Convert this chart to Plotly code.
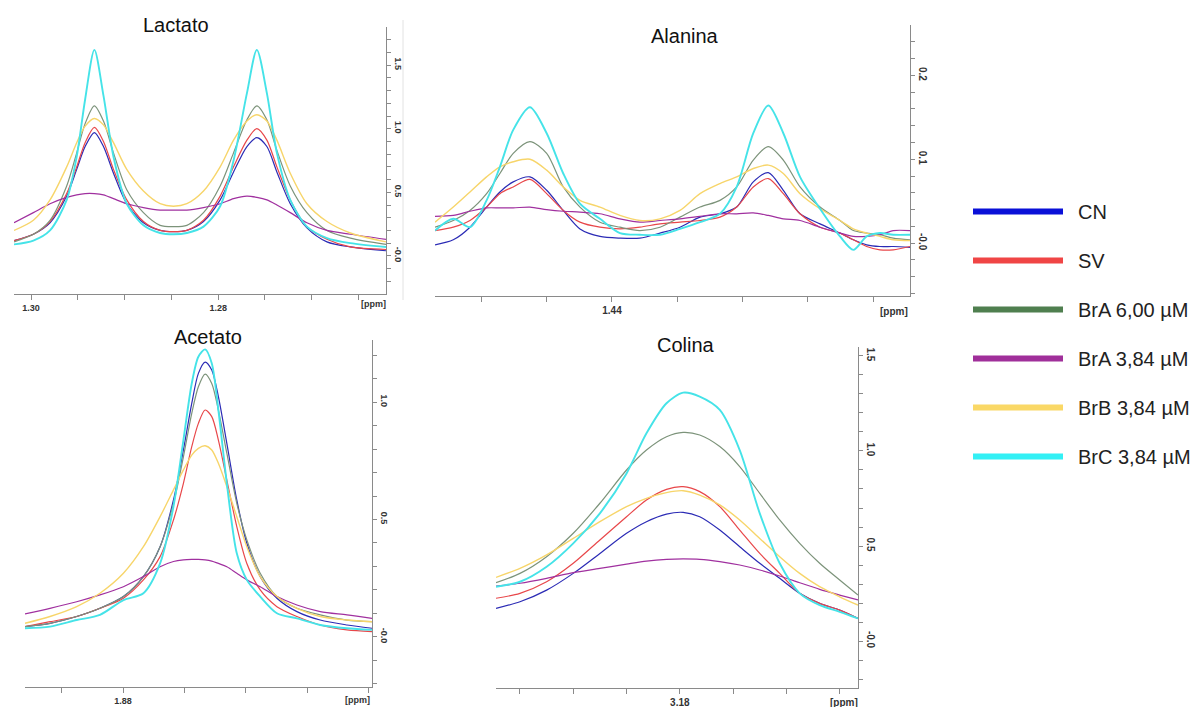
import plotly.graph_objects as go

W, H = 1201, 707

series_names = ["CN", "SV", "BrA 6,00 µM", "BrA 3,84 µM", "BrB 3,84 µM", "BrC 3,84 µM"]
curve_colors = ["#2b2bb5", "#e8474a", "#7c937a", "#a0309f", "#f7d56a", "#45e3e8"]
legend_colors = ["#0a10d8", "#f04545", "#4f7f4f", "#a02f9a", "#fad866", "#33f0f5"]
curve_widths = [1.2, 1.2, 1.2, 1.2, 1.4, 1.9]

# ---------------- Lactato ----------------
lact_ppm = [1.30182, 1.29975, 1.29797, 1.29619, 1.29512, 1.29422, 1.29323, 1.29226, 1.29119,
            1.28977, 1.28799, 1.28620, 1.28478, 1.28335, 1.28157, 1.27979, 1.27836, 1.27693,
            1.27587, 1.27480, 1.27373, 1.27230, 1.27052, 1.26838, 1.26588, 1.26207]
lact_cn = [0.12, 0.17, 0.26, 0.47, 0.68, 0.86, 0.97, 0.86, 0.65, 0.41, 0.26, 0.20, 0.19, 0.20,
           0.27, 0.44, 0.66, 0.86, 0.93, 0.86, 0.66, 0.41, 0.22, 0.11, 0.07, 0.04]
lact_sv = [0.12, 0.17, 0.27, 0.49, 0.70, 0.89, 1.01, 0.90, 0.68, 0.44, 0.27, 0.20, 0.19, 0.20,
           0.28, 0.47, 0.70, 0.91, 1.00, 0.91, 0.70, 0.44, 0.23, 0.13, 0.07, 0.05]
lact_bra6 = [0.11, 0.17, 0.28, 0.55, 0.81, 1.04, 1.18, 1.06, 0.81, 0.52, 0.34, 0.24, 0.23, 0.24,
             0.34, 0.55, 0.81, 1.07, 1.18, 1.07, 0.83, 0.55, 0.34, 0.20, 0.14, 0.09]
lact_bra384 = [0.26, 0.34, 0.41, 0.46, 0.48, 0.49, 0.49, 0.48, 0.45, 0.41, 0.38, 0.36, 0.36, 0.36,
               0.38, 0.41, 0.45, 0.47, 0.46, 0.44, 0.40, 0.34, 0.26, 0.20, 0.17, 0.13]
lact_brb = [0.20, 0.28, 0.44, 0.70, 0.89, 1.02, 1.08, 1.03, 0.89, 0.68, 0.51, 0.41, 0.39, 0.41,
            0.51, 0.70, 0.91, 1.06, 1.11, 1.06, 0.91, 0.65, 0.41, 0.27, 0.18, 0.11]
lact_brc = [0.09, 0.12, 0.20, 0.44, 0.78, 1.23, 1.62, 1.26, 0.78, 0.41, 0.24, 0.18, 0.17, 0.18,
            0.23, 0.39, 0.75, 1.28, 1.62, 1.28, 0.81, 0.44, 0.23, 0.14, 0.10, 0.07]
lact_xticks = [1.300, 1.295, 1.290, 1.285, 1.280, 1.275, 1.270, 1.265]
lact_xlabels = ["1.30", "", "", "", "1.28", "", "", ""]
lact_yticks = [-0.2, -0.1, 0.0, 0.1, 0.2, 0.3, 0.4, 0.5, 0.6, 0.7, 0.8, 0.9, 1.0, 1.1, 1.2, 1.3,
               1.4, 1.5, 1.6, 1.7]
lact_ylabels = ["", "", "-0.0", "", "", "", "", "0.5", "", "", "", "", "1.0", "", "", "", "", "1.5",
                "", ""]

# ---------------- Alanina ----------------
ala_ppm = [1.45355, 1.45215, 1.45087, 1.44960, 1.44858, 1.44756, 1.44628, 1.44500, 1.44373,
           1.44245, 1.44092, 1.43939, 1.43786, 1.43632, 1.43479, 1.43326, 1.43173, 1.43045,
           1.42918, 1.42803, 1.42688, 1.42560, 1.42407, 1.42254, 1.42152, 1.42050, 1.41948,
           1.41846, 1.41718]
ala_cn = [-0.002, 0.004, 0.019, 0.043, 0.061, 0.073, 0.079, 0.063, 0.039, 0.017, 0.008, 0.006,
          0.006, 0.012, 0.019, 0.031, 0.035, 0.043, 0.073, 0.084, 0.063, 0.035, 0.023, 0.012,
          0.004, -0.002, -0.004, -0.004, -0.005]
ala_sv = [0.015, 0.019, 0.027, 0.043, 0.059, 0.067, 0.076, 0.059, 0.039, 0.025, 0.019, 0.017,
          0.019, 0.023, 0.025, 0.027, 0.031, 0.043, 0.067, 0.077, 0.059, 0.035, 0.019, 0.012,
          0.004, -0.004, -0.008, -0.008, -0.004]
ala_bra6 = [0.019, 0.027, 0.039, 0.059, 0.083, 0.107, 0.121, 0.107, 0.067, 0.043, 0.025, 0.019,
            0.015, 0.019, 0.031, 0.043, 0.051, 0.067, 0.099, 0.115, 0.099, 0.067, 0.043, 0.027,
            0.015, 0.012, 0.010, 0.006, 0.004]
ala_bra384 = [0.032, 0.033, 0.038, 0.042, 0.042, 0.042, 0.043, 0.040, 0.038, 0.037, 0.035, 0.029,
              0.025, 0.027, 0.029, 0.032, 0.035, 0.035, 0.036, 0.033, 0.029, 0.027, 0.019, 0.012,
              0.008, 0.008, 0.010, 0.015, 0.015]
ala_brb = [0.025, 0.043, 0.061, 0.079, 0.091, 0.097, 0.100, 0.087, 0.067, 0.051, 0.043, 0.033,
           0.027, 0.029, 0.039, 0.059, 0.071, 0.079, 0.089, 0.093, 0.083, 0.059, 0.041, 0.027,
           0.017, 0.012, 0.008, 0.004, 0.003]
ala_brc = [0.015, 0.029, 0.019, 0.051, 0.091, 0.135, 0.162, 0.131, 0.083, 0.047, 0.029, 0.012,
           0.010, 0.010, 0.017, 0.025, 0.035, 0.067, 0.131, 0.164, 0.131, 0.079, 0.041, 0.008,
           -0.008, 0.008, 0.012, 0.010, 0.010]
ala_xticks = [1.450, 1.445, 1.440, 1.435, 1.430, 1.425, 1.420]
ala_xlabels = ["", "", "1.44", "", "", "", ""]
ala_yticks = [-0.06, -0.04, -0.02, 0.0, 0.02, 0.04, 0.06, 0.08, 0.10, 0.12, 0.14, 0.16, 0.18,
              0.20, 0.22, 0.24]
ala_ylabels = ["", "", "", "-0.0", "", "", "", "", "0.1", "", "", "", "", "0.2", "", ""]

# ---------------- Acetato ----------------
ace_ppm = [1.88799, 1.88595, 1.88378, 1.88188, 1.87997, 1.87834, 1.87698, 1.87589, 1.87508,
           1.87440, 1.87386, 1.87331, 1.87277, 1.87223, 1.87154, 1.87073, 1.86991, 1.86882,
           1.86746, 1.86583, 1.86393, 1.86175, 1.85971]
ace_cn = [0.044, 0.058, 0.087, 0.122, 0.172, 0.257, 0.384, 0.583, 0.796, 0.994, 1.122, 1.170,
          1.136, 1.023, 0.824, 0.583, 0.399, 0.257, 0.165, 0.108, 0.072, 0.051, 0.037]
ace_sv = [0.044, 0.065, 0.087, 0.122, 0.165, 0.243, 0.342, 0.498, 0.654, 0.810, 0.909, 0.966,
          0.938, 0.838, 0.668, 0.470, 0.313, 0.200, 0.129, 0.087, 0.051, 0.030, 0.023]
ace_bra6 = [0.044, 0.058, 0.087, 0.122, 0.172, 0.257, 0.384, 0.569, 0.767, 0.952, 1.065, 1.119,
            1.079, 0.966, 0.782, 0.569, 0.413, 0.271, 0.172, 0.122, 0.094, 0.072, 0.065]
ace_bra384 = [0.098, 0.122, 0.150, 0.179, 0.214, 0.257, 0.299, 0.321, 0.328, 0.330, 0.330, 0.328,
              0.323, 0.313, 0.299, 0.271, 0.243, 0.214, 0.172, 0.136, 0.108, 0.094, 0.079]
ace_brb = [0.058, 0.087, 0.129, 0.186, 0.271, 0.384, 0.512, 0.626, 0.711, 0.774, 0.803, 0.814,
           0.796, 0.739, 0.640, 0.512, 0.384, 0.257, 0.172, 0.122, 0.087, 0.072, 0.065]
ace_brc = [0.037, 0.044, 0.072, 0.094, 0.157, 0.186, 0.313, 0.555, 0.838, 1.079, 1.193, 1.224,
           1.165, 0.966, 0.654, 0.356, 0.243, 0.172, 0.101, 0.079, 0.051, 0.037, 0.030]
ace_xticks = [1.885, 1.880, 1.875, 1.870, 1.865, 1.860]
ace_xlabels = ["", "1.88", "", "", "", ""]
ace_yticks = [-0.2, -0.1, 0.0, 0.1, 0.2, 0.3, 0.4, 0.5, 0.6, 0.7, 0.8, 0.9, 1.0, 1.1, 1.2]
ace_ylabels = ["", "", "-0.0", "", "", "", "", "0.5", "", "", "", "", "1.0", "", ""]

# ---------------- Colina ----------------
col_ppm = [3.19725, 3.19500, 3.19250, 3.19000, 3.18750, 3.18500, 3.18313, 3.18125, 3.17969,
           3.17813, 3.17625, 3.17438, 3.17250, 3.17063, 3.16875, 3.16688, 3.16500, 3.16328]
col_cn = [0.172, 0.207, 0.268, 0.356, 0.461, 0.567, 0.628, 0.668, 0.677, 0.654, 0.584, 0.496,
          0.409, 0.330, 0.251, 0.198, 0.163, 0.119]
col_sv = [0.225, 0.251, 0.312, 0.409, 0.532, 0.654, 0.742, 0.798, 0.812, 0.786, 0.707, 0.584,
          0.461, 0.356, 0.251, 0.198, 0.163, 0.119]
col_bra6 = [0.307, 0.356, 0.444, 0.567, 0.725, 0.900, 1.005, 1.075, 1.098, 1.084, 1.023, 0.918,
            0.777, 0.637, 0.514, 0.409, 0.321, 0.242]
col_bra384 = [0.289, 0.304, 0.330, 0.360, 0.382, 0.405, 0.421, 0.430, 0.432, 0.430, 0.418, 0.400,
              0.374, 0.342, 0.307, 0.272, 0.242, 0.216]
col_brb = [0.335, 0.382, 0.453, 0.540, 0.628, 0.707, 0.751, 0.781, 0.791, 0.768, 0.716, 0.637,
           0.540, 0.444, 0.356, 0.286, 0.233, 0.189]
col_brc = [0.286, 0.312, 0.391, 0.514, 0.672, 0.882, 1.093, 1.251, 1.307, 1.286, 1.216, 1.005,
           0.672, 0.409, 0.251, 0.189, 0.154, 0.119]
col_xticks = [3.195, 3.190, 3.185, 3.180, 3.175, 3.170, 3.165]
col_xlabels = ["", "", "", "3.18", "", "", ""]
col_yticks = [-0.2, -0.1, 0.0, 0.1, 0.2, 0.3, 0.4, 0.5, 0.6, 0.7, 0.8, 0.9, 1.0, 1.1, 1.2, 1.3,
              1.4, 1.5]
col_ylabels = ["", "", "-0.0", "", "", "", "", "0.5", "", "", "", "", "1.0", "", "", "", "", "1.5"]

# panel layout (pixel boxes: left, right, top, bottom)
panels = [
    dict(title="Lactato", x=lact_ppm, ys=[lact_cn, lact_sv, lact_bra6, lact_bra384, lact_brb, lact_brc],
         box=(14, 386, 27, 294), xr=[1.30182, 1.26207], yr=[-0.30, 1.80],
         xt=lact_xticks, xl=lact_xlabels, yt=lact_yticks, yl=lact_ylabels,
         tpos=(176, 25), ppm=(373, 304), fs=8),
    dict(title="Alanina", x=ala_ppm, ys=[ala_cn, ala_sv, ala_bra6, ala_bra384, ala_brb, ala_brc],
         box=(435, 910, 25, 296), xr=[1.45355, 1.41718], yr=[-0.063, 0.26],
         xt=ala_xticks, xl=ala_xlabels, yt=ala_yticks, yl=ala_ylabels,
         tpos=(685, 36), ppm=(894, 311), fs=9),
    dict(title="Acetato", x=ace_ppm, ys=[ace_cn, ace_sv, ace_bra6, ace_bra384, ace_brb, ace_brc],
         box=(25, 372, 340, 687), xr=[1.88799, 1.85971], yr=[-0.213, 1.264],
         xt=ace_xticks, xl=ace_xlabels, yt=ace_yticks, yl=ace_ylabels,
         tpos=(208, 337), ppm=(357, 700), fs=8),
    dict(title="Colina", x=col_ppm, ys=[col_cn, col_sv, col_bra6, col_bra384, col_brb, col_brc],
         box=(496, 858, 347, 688), xr=[3.19725, 3.16328], yr=[-0.247, 1.547],
         xt=col_xticks, xl=col_xlabels, yt=col_yticks, yl=col_ylabels,
         tpos=(686, 345), ppm=(844, 702), fs=9),
]

fig = go.Figure()
axis_color = "#8a8a8a"
tick_font_color = "#333333"
annotations = []

for i, p in enumerate(panels, start=1):
    xa = "x" if i == 1 else f"x{i}"
    ya = "y" if i == 1 else f"y{i}"
    for s in range(6):
        fig.add_trace(go.Scatter(
            x=p["x"], y=p["ys"][s], mode="lines", xaxis=xa, yaxis=ya,
            line=dict(color=curve_colors[s], width=curve_widths[s], shape="spline", smoothing=0.8),
            showlegend=False, hoverinfo="skip"))
    l, r, t, b = p["box"]
    xkey = "xaxis" if i == 1 else f"xaxis{i}"
    ykey = "yaxis" if i == 1 else f"yaxis{i}"
    fig.update_layout(**{
        xkey: dict(domain=[l / W, r / W], range=p["xr"], anchor=ya,
                   showgrid=False, zeroline=False, showline=True, linecolor=axis_color, linewidth=1,
                   ticks="outside", ticklen=5, tickcolor=axis_color, tickwidth=1,
                   tickmode="array", tickvals=p["xt"],
                   ticktext=[f"<b>{v}</b>" if v else "" for v in p["xl"]],
                   tickfont=dict(family="Arial", size=p["fs"] + 1, color=tick_font_color)),
        ykey: dict(domain=[1 - b / H, 1 - t / H], range=p["yr"], anchor=xa, side="right",
                   showgrid=False, zeroline=False, showline=True, linecolor=axis_color, linewidth=1,
                   ticks="outside", ticklen=4, tickcolor=axis_color, tickwidth=1,
                   tickmode="array", tickvals=p["yt"],
                   ticktext=[f"<b>{v}</b>" if v else "" for v in p["yl"]],
                   tickangle=90,
                   tickfont=dict(family="Arial", size=p["fs"] + 1, color=tick_font_color)),
    })
    annotations.append(dict(text=p["title"], x=p["tpos"][0] / W, y=1 - p["tpos"][1] / H,
                            xref="paper", yref="paper", showarrow=False,
                            xanchor="center", yanchor="middle",
                            font=dict(family="Arial", size=20, color="#111111")))
    annotations.append(dict(text="<b>[ppm]</b>", x=p["ppm"][0] / W, y=1 - p["ppm"][1] / H,
                            xref="paper", yref="paper", showarrow=False,
                            xanchor="center", yanchor="middle",
                            font=dict(family="Arial", size=p["fs"] + 1, color=tick_font_color)))

# legend entries (en space pushes the label right of the swatch)
for s in range(6):
    fig.add_trace(go.Scatter(x=[None], y=[None], mode="lines", name="\u2002" + series_names[s],
                             legendgroup=f"g{s}",
                             line=dict(color=legend_colors[s], width=6), showlegend=True))

fig.update_layout(
    width=W, height=H, margin=dict(l=0, r=0, t=0, b=0),
    paper_bgcolor="white", plot_bgcolor="white",
    annotations=annotations,
    shapes=[dict(type="line", xref="paper", yref="paper", x0=403 / W, x1=403 / W,
                 y0=1 - 300 / H, y1=1 - 20 / H, line=dict(color="#e2e2e2", width=1))],
    legend=dict(x=968 / W, y=1 - 192 / H, xanchor="left", yanchor="top",
                font=dict(family="Arial", size=20, color="#222222"),
                itemwidth=90, tracegroupgap=20, bgcolor="rgba(0,0,0,0)"),
)

fig.write_html("out.html")
